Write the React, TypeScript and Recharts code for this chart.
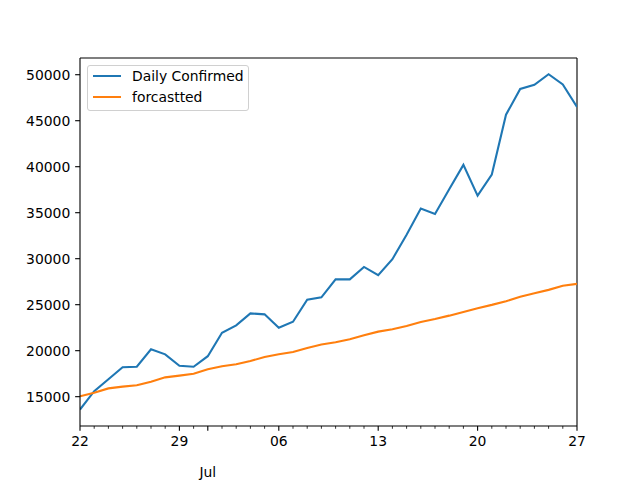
import React from "react";
import { LineChart, Line, XAxis, YAxis, ReferenceLine } from "recharts";

const days = ["22","23","24","25","26","27","28","29","30","01","02","03","04","05","06","07","08","09","10","11","12","13","14","15","16","17","18","19","20","21","22","23","24","25","26","27"];
const dailyConfirmed = [13600,15600,16900,18200,18250,20150,19600,18350,18250,19400,21950,22750,24050,23950,22500,23150,25550,25800,27750,27750,29100,28200,29950,32600,35450,34850,37550,40200,36850,39150,45650,48450,48900,50050,48950,46500];
const forcastted = [15050,15430,15900,16090,16240,16630,17100,17290,17500,17970,18300,18520,18880,19320,19610,19860,20300,20680,20920,21250,21680,22070,22330,22690,23130,23450,23810,24210,24620,24980,25380,25850,26250,26610,27050,27260];
const majorTickIdx = [0, 7, 14, 21, 28, 35];
const majorTickLabels = ["22", "29", "06", "13", "20", "27"];
const monthTickIdx = 9;
const monthLabel = "Jul";
const yTicks = [15000, 20000, 25000, 30000, 35000, 40000, 45000, 50000];
const yMin = 11812;
const yMax = 51817;
const seriesNames = ["Daily Confirmed", "forcastted"];
const seriesColors = ["#1f77b4", "#ff7f0e"];

const data = days.map((d, i) => ({ idx: i, day: d, confirmed: dailyConfirmed[i], forecast: forcastted[i] }));
const allTicks = days.map((_, i) => i);

const FONT = "DejaVu Sans";
const FS = 13.9;

const XTick = (props: any) => {
  const { x, y, payload } = props;
  const v = payload.value;
  const mi = majorTickIdx.indexOf(v);
  const isMajor = mi >= 0 || v === monthTickIdx;
  const len = isMajor ? 4.86 : 2.78;
  return (
    <g>
      <line x1={x} x2={x} y1={y} y2={y + len} stroke="#000" strokeWidth={isMajor ? 1.1 : 0.8} />
      {mi >= 0 && (
        <text x={x} y={y + 20} textAnchor="middle" fontFamily={FONT} fontSize={FS} fill="#000">
          {majorTickLabels[mi]}
        </text>
      )}
      {v === monthTickIdx && (
        <text x={x} y={y + 51} textAnchor="middle" fontFamily={FONT} fontSize={FS} fill="#000">
          {monthLabel}
        </text>
      )}
    </g>
  );
};

const LegendBox = () => (
  <div
    style={{
      position: "absolute",
      left: 87,
      top: 65,
      width: 162,
      height: 46,
      border: "1px solid #d0d0d0",
      borderRadius: 3,
      background: "rgba(255,255,255,0.8)",
      fontFamily: FONT,
      fontSize: FS,
      color: "#000",
      boxSizing: "border-box",
    }}
  >
    {seriesNames.map((name, i) => (
      <div key={i} style={{ position: "absolute", left: 5, top: 1 + i * 21, height: 18, display: "flex", alignItems: "center" }}>
        <div style={{ width: 28, height: 2, background: seriesColors[i] }} />
        <span style={{ marginLeft: 11, lineHeight: "18px", whiteSpace: "nowrap" }}>{name}</span>
      </div>
    ))}
  </div>
);

export default function App() {
  return (
    <div style={{ position: "absolute", left: 0, top: 0, width: 640, height: 480, background: "#fff" }}>
      <LineChart width={640} height={480} data={data} margin={{ top: 58, right: 63, bottom: 0, left: 0 }}>
        <XAxis
          dataKey="idx"
          type="number"
          domain={[0, 35]}
          ticks={allTicks}
          interval={0}
          tickSize={0}
          tickMargin={0}
          tickLine={false}
          tick={<XTick />}
          height={54}
          axisLine={{ stroke: "#000", strokeWidth: 1.1 }}
          allowDataOverflow
        />
        <YAxis
          type="number"
          domain={[yMin, yMax]}
          ticks={yTicks}
          allowDataOverflow
          width={80}
          tickSize={4.86}
          tickMargin={4.86}
          tickLine={{ stroke: "#000", strokeWidth: 1.1 }}
          axisLine={{ stroke: "#000", strokeWidth: 1.1 }}
          tick={{ fill: "#000", fontFamily: FONT, fontSize: FS }}
        />
        <ReferenceLine y={yMax} stroke="#000" strokeWidth={1.1} ifOverflow="visible" />
        <ReferenceLine x={35} stroke="#000" strokeWidth={1.1} ifOverflow="visible" />
        <Line dataKey="confirmed" name={seriesNames[0]} stroke={seriesColors[0]} strokeWidth={2.08} dot={false} isAnimationActive={false} type="linear" />
        <Line dataKey="forecast" name={seriesNames[1]} stroke={seriesColors[1]} strokeWidth={2.08} dot={false} isAnimationActive={false} type="linear" />
      </LineChart>
      <LegendBox />
    </div>
  );
}
